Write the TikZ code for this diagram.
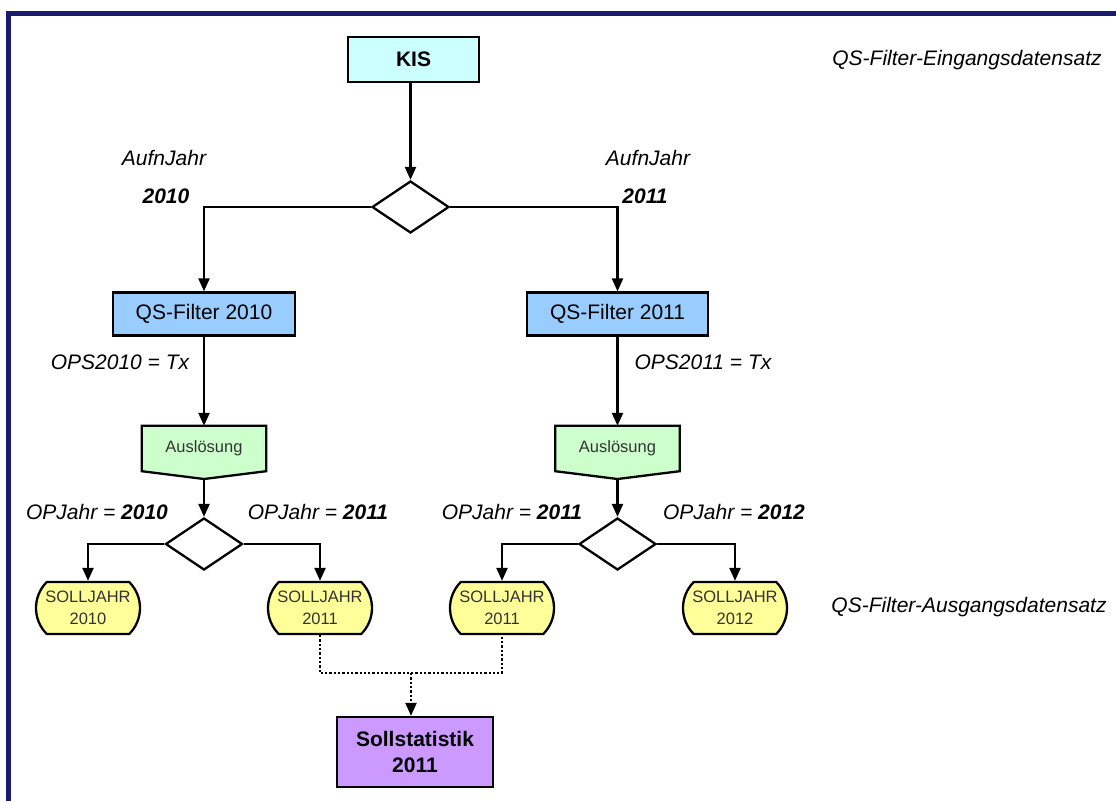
\documentclass[tikz,border=0pt]{standalone}
\usepackage{fontspec}
\setmainfont{Liberation Sans}
\usetikzlibrary{shapes.geometric,shapes.misc,arrows.meta,backgrounds}
\definecolor{navyframe}{HTML}{1B1B6B}
\definecolor{kisfill}{HTML}{CCFFFF}
\definecolor{qsfill}{HTML}{99CCFF}
\definecolor{ausfill}{HTML}{CCFFCC}
\definecolor{sollfill}{HTML}{FFFF99}
\definecolor{statfill}{HTML}{CC99FF}
\definecolor{darktext}{HTML}{333333}
\tikzset{
  mainfont/.style={font=\fontsize{21}{25}\selectfont},
  smallfont/.style={font=\fontsize{16.5}{22}\selectfont},
  boxnode/.style={draw, line width=2.3pt, rectangle, inner sep=0pt, align=center, mainfont},
  decision/.style={draw, line width=2.3pt, diamond, inner sep=0pt, minimum width=77pt, minimum height=52pt},
  ausnode/.style={inner sep=0pt, minimum width=124pt, minimum height=45pt, smallfont, text=darktext},
  ausshape/.style={draw, line width=2.3pt, fill=ausfill, line join=miter},
  sollnode/.style={draw, line width=2.3pt, rounded rectangle, rounded rectangle arc length=90, fill=sollfill, minimum width=104pt, minimum height=52pt, inner sep=0pt, align=center, smallfont, text=darktext},
  conn/.style={line width=2.3pt, -{Triangle[length=13pt,width=11pt]}},
  dotconn/.style={line width=2.3pt, dotted},
  lbl/.style={font=\fontsize{21}{25}\selectfont\itshape, inner sep=0pt},
  lblb/.style={font=\fontsize{21}{25}\selectfont\bfseries\itshape, inner sep=0pt},
}
\begin{document}
\begin{tikzpicture}[x=1pt,y=-1pt]
\useasboundingbox (0,0) rectangle (1116,801);
% frame
\draw[navyframe, line width=4.5pt] (1116,13.5) -- (8.5,13.5) -- (8.5,801);

% nodes
\node[boxnode, fill=kisfill, minimum width=131pt, minimum height=45pt, font=\fontsize{21}{25}\selectfont\bfseries] (kis) at (413.5,59.5) {KIS};
\node[decision] (d1) at (410.5,207) {};
\node[boxnode, fill=qsfill, minimum width=182pt, minimum height=43pt] (qs1) at (204,314) {QS-Filter 2010};
\node[boxnode, fill=qsfill, minimum width=181pt, minimum height=43pt] (qs2) at (617.5,314) {QS-Filter 2011};

\node[ausnode] (aus1) at (204,448.5) {Auslösung};
\node[ausnode] (aus2) at (617.5,448.5) {Auslösung};
\coordinate (aus1tip) at (204,479);
\coordinate (aus2tip) at (617.5,479);
\begin{scope}[on background layer]
\draw[ausshape] (aus1.north west) -- (aus1.north east) -- (aus1.south east) -- (aus1tip) -- (aus1.south west) -- cycle;
\draw[ausshape] (aus2.north west) -- (aus2.north east) -- (aus2.south east) -- (aus2tip) -- (aus2.south west) -- cycle;
\end{scope}

\node[decision] (d2) at (204,544) {};
\node[decision] (d3) at (617.5,544) {};

\node[sollnode] (s1) at (88,608) {SOLLJAHR\\2010};
\node[sollnode] (s2) at (320,608) {SOLLJAHR\\2011};
\node[sollnode] (s3) at (502,608) {SOLLJAHR\\2011};
\node[sollnode] (s4) at (735,608) {SOLLJAHR\\2012};

\node[boxnode, fill=statfill, minimum width=156pt, minimum height=70pt, font=\fontsize{21}{26}\selectfont\bfseries] (stat) at (415,752) {Sollstatistik\\2011};

% connectors
\draw[conn] (d1.north |- kis.south) -- (d1.north);
\draw[conn] (d1.west) -| (qs1.north);
\draw[conn] (d1.east) -| (qs2.north);
\draw[conn] (qs1.south) -- (aus1.north);
\draw[conn] (qs2.south) -- (aus2.north);
\draw[conn] (aus1tip) -- (d2.north);
\draw[conn] (aus2tip) -- (d3.north);
\draw[conn] (d2.west) -| (s1.north);
\draw[conn] (d2.east) -| (s2.north);
\draw[conn] (d3.west) -| (s3.north);
\draw[conn] (d3.east) -| (s4.north);
\coordinate (join) at (411,673);
\draw[dotconn] (s2.south) |- (join) -| (s3.south);
\draw[dotconn, -{Triangle[length=13pt,width=11pt]}] (join) -- (join |- stat.north);

% labels
\node[lbl] (l1) at (164,158) {AufnJahr};
\node[lblb] (l2) at (166,196) {2010};
\node[lbl] (l3) at (648,158) {AufnJahr};
\node[lblb] (l4) at (645,196) {2011};
\node[lbl] (l5) at (120,362) {OPS2010 = Tx};
\node[lbl] (l6) at (703,362) {OPS2011 = Tx};
\node[lbl] (l7) at (97,512) {OPJahr = \textbf{2010}};
\node[lbl] (l8) at (318,512) {OPJahr = \textbf{2011}};
\node[lbl] (l9) at (512,512) {OPJahr = \textbf{2011}};
\node[lbl] (l10) at (734,512) {OPJahr = \textbf{2012}};
\node[lbl] (l11) at (967,60) {QS-Filter-Eingangsdatensatz};
\node[lbl] (l12) at (969,607) {QS-Filter-Ausgangsdatensatz};
\end{tikzpicture}
\end{document}
